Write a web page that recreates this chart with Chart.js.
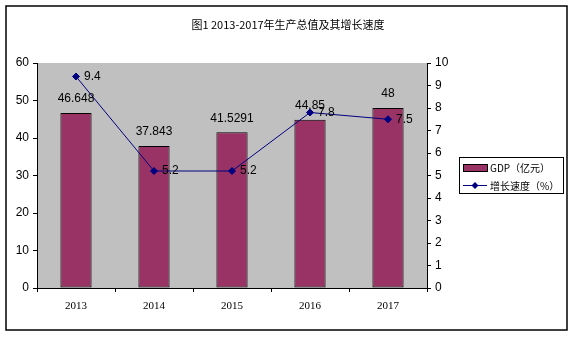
<!DOCTYPE html>
<html>
<head>
<meta charset="utf-8">
<script src="https://cdn.jsdelivr.net/npm/chart.js@4"></script>
<style>
  body { margin: 0; background: #fff; }
  #wrap { width: 575px; height: 338px; position: relative; }
</style>
</head>
<body>
<div id="wrap"><canvas id="myChart" width="575" height="338"></canvas></div>
<script>
const years = ['2013', '2014', '2015', '2016', '2017'];
const gdp = [46.648, 37.843, 41.5291, 44.85, 48];
const growth = [9.4, 5.2, 5.2, 7.8, 7.5];
const gdpLabel = 'GDP（亿元）';
const growthLabel = '增长速度（%）';
const titleText = '图1 2013-2017年生产总值及其增长速度';

const sans = '"Liberation Sans", Arial, sans-serif';
const cjk = '"Noto Sans CJK SC", sans-serif';

// background, frame, title, value labels and legend
const decor = {
    id: 'decor',
    beforeDraw(chart) {
        const ctx = chart.ctx;
        const a = chart.chartArea;
        ctx.save();
        ctx.fillStyle = '#fff';
        ctx.fillRect(0, 0, chart.width, chart.height);
        ctx.fillStyle = '#c0c0c0';
        ctx.fillRect(a.left, a.top, a.right - a.left, a.bottom - a.top);
        ctx.strokeStyle = '#000';
        ctx.lineWidth = 1.5;
        ctx.strokeRect(6, 6, 561, 324);
        ctx.fillStyle = '#000';
        ctx.font = '11px ' + cjk;
        ctx.textAlign = 'center';
        ctx.textBaseline = 'middle';
        ctx.fillText(titleText, 288, 25);
        ctx.restore();
    },
    afterDatasetsDraw(chart) {
        const ctx = chart.ctx;
        ctx.save();
        ctx.fillStyle = '#000';
        ctx.font = '12px ' + sans;
        ctx.textBaseline = 'middle';
        // bar values
        ctx.textAlign = 'center';
        chart.getDatasetMeta(0).data.forEach((el, i) => {
            ctx.fillText(String(gdp[i]), el.x, el.y - 14);
        });
        // line values
        ctx.textAlign = 'left';
        chart.getDatasetMeta(1).data.forEach((el, i) => {
            ctx.fillText(String(growth[i]), el.x + 8, el.y);
        });

        // legend
        ctx.fillStyle = '#fff';
        ctx.fillRect(459, 157, 104, 36);
        ctx.strokeStyle = '#000';
        ctx.lineWidth = 1;
        ctx.strokeRect(459.5, 157.5, 104, 36);
        ctx.fillStyle = '#993366';
        ctx.fillRect(463, 164, 24, 7);
        ctx.strokeRect(463.5, 164.5, 24, 7);
        ctx.strokeStyle = '#000080';
        ctx.beginPath();
        ctx.moveTo(463, 185.5);
        ctx.lineTo(487, 185.5);
        ctx.stroke();
        ctx.fillStyle = '#000080';
        ctx.beginPath();
        ctx.moveTo(475, 182);
        ctx.lineTo(478.5, 185.5);
        ctx.lineTo(475, 189);
        ctx.lineTo(471.5, 185.5);
        ctx.closePath();
        ctx.fill();
        ctx.fillStyle = '#000';
        ctx.font = '10px ' + cjk;
        ctx.fillText(gdpLabel, 490, 168);
        ctx.fillText(growthLabel, 490, 186);
        ctx.restore();
    }
};

const data = {
    labels: years,
    datasets: [{
        type: 'bar',
        label: gdpLabel,
        data: gdp,
        backgroundColor: '#993366',
        borderColor: '#000',
        borderWidth: 1,
        borderSkipped: false,
        barPercentage: 0.4,
        categoryPercentage: 1,
        yAxisID: 'y',
        order: 1
    }, {
        type: 'line',
        label: growthLabel,
        data: growth,
        borderColor: '#000080',
        backgroundColor: '#000080',
        borderWidth: 1,
        pointStyle: 'rectRot',
        pointRadius: 3.5,
        yAxisID: 'y1',
        order: 0
    }]
};

const config = {
    type: 'bar',
    data: data,
    options: {
        responsive: false,
        animation: false,
        layout: {
            padding: { left: 0, right: 118, top: 63, bottom: 0 }
        },
        scales: {
            x: {
                grid: {
                    display: true,
                    drawOnChartArea: false,
                    drawTicks: true,
                    tickLength: 4,
                    offset: true,
                    color: '#000'
                },
                border: { color: '#000', width: 1 },
                ticks: {
                    color: '#000',
                    padding: 8,
                    font: { family: '"Liberation Serif", serif', size: 11 }
                },
                afterFit(scale) { scale.height = 50; }
            },
            y: {
                position: 'left',
                min: 0,
                max: 60,
                ticks: {
                    stepSize: 10,
                    color: '#000',
                    padding: 4,
                    font: { family: sans, size: 12 }
                },
                grid: {
                    drawOnChartArea: false,
                    tickLength: 4,
                    color: '#000'
                },
                border: { color: '#000', width: 1 },
                afterFit(scale) { scale.width = 37; }
            },
            y1: {
                position: 'right',
                min: 0,
                max: 10,
                ticks: {
                    stepSize: 1,
                    color: '#000',
                    padding: 4,
                    font: { family: sans, size: 12 }
                },
                grid: {
                    drawOnChartArea: false,
                    tickLength: 4,
                    color: '#000'
                },
                border: { color: '#000', width: 1 },
                afterFit(scale) { scale.width = 30; }
            }
        },
        plugins: {
            legend: { display: false },
            title: { display: false },
            tooltip: { enabled: false }
        }
    },
    plugins: [decor]
};

var myChart = new Chart(document.getElementById('myChart'), config);
</script>
</body>
</html>
